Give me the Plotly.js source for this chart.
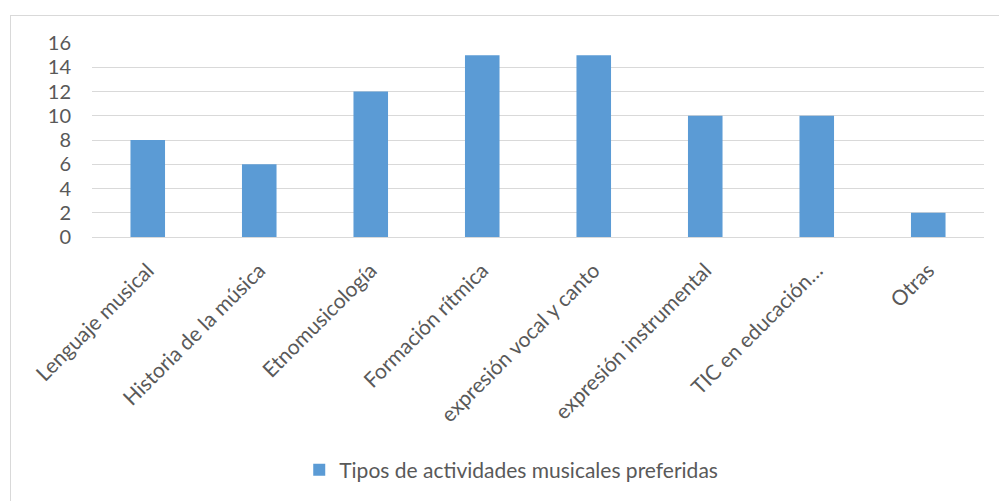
<!DOCTYPE html>
<html>
<head>
<meta charset="utf-8">
<script src="https://cdn.plot.ly/plotly-3.0.1.min.js"></script>
<style>
html,body{margin:0;padding:0;background:#fff;overflow:hidden;}
#frame{position:absolute;left:10px;top:15px;width:1000px;height:500px;border:1.5px solid #d9d9d9;box-sizing:border-box;pointer-events:none;z-index:5;}
#chart{position:absolute;left:0;top:0;width:999px;height:501px;}
</style>
</head>
<body>
<div id="chart"></div>
<div id="frame"></div>
<script>
const categories = ["Lenguaje musical","Historia de la música","Etnomusicología","Formación rítmica","expresión vocal y canto","expresión instrumental","TIC en educación…","Otras"];
const values = [8, 6, 12, 15, 15, 10, 10, 2];
const seriesName = "Tipos de actividades musicales preferidas";
const yTicks = [0,2,4,6,8,10,12,14,16];

const trace = {
  type: 'bar',
  x: categories,
  y: values,
  name: seriesName,
  marker: {color: '#5B9BD5'},
  showlegend: true
};
const layout = {
  width: 999, height: 501,
  margin: {l: 92, r: 15, t: 43, b: 263, pad: 0},
  paper_bgcolor: '#fff', plot_bgcolor: '#fff',
  font: {family: 'Lato, "Open Sans", sans-serif', size: 21, color: '#595959'},
  bargap: 0.69,
  showlegend: true,
  legend: {orientation: 'h', x: 0.47, xanchor: 'center', xref: 'paper', y: -1.19, yanchor: 'middle', font: {size: 21, color: '#595959'}, itemwidth: 30},
  xaxis: {type: 'category', tickangle: -45, showgrid: false, showline: true, linecolor: '#d9d9d9', linewidth: 1, ticks: '', ticklabelstandoff: 12, automargin: false, tickfont: {size: 21, color: '#595959'}},
  yaxis: {range: [0, 16], tickvals: yTicks, ticktext: yTicks.map(String), showgrid: true, gridcolor: '#d9d9d9', gridwidth: 1, zeroline: false, showline: false, ticks: '', ticklabelstandoff: 20, automargin: false, tickfont: {size: 20, color: '#595959'}}
};
Plotly.newPlot('chart', [trace], layout, {displayModeBar: false, staticPlot: true});
</script>
</body>
</html>
